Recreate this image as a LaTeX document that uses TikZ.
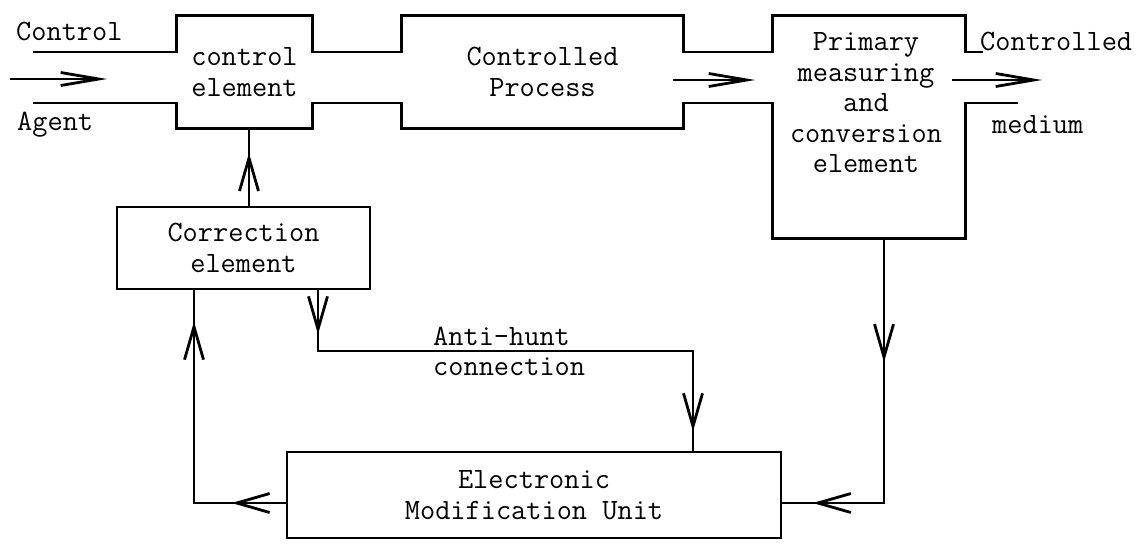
\documentclass[tikz,border=0pt]{standalone}
\usepackage{fontspec}
\usetikzlibrary{arrows.meta,decorations.markings}
\begin{document}
\begin{tikzpicture}[x=1pt,y=-1pt,
  ln/.style={line width=2.8pt, line join=miter},
  txt/.style={font=\fontsize{29.5}{30.5}\selectfont\ttfamily, inner sep=0pt, align=center},
  lbl/.style={font=\fontsize{29.5}{30.5}\selectfont\ttfamily, inner sep=0pt, anchor=base west},
  hole/.style={draw=none, inner sep=0pt},
  boxed/.style={draw, ln, inner sep=0pt},
  harrow/.style={ln, -{Straight Barb[length=38pt,width=13pt]}},
  tipat/.style={postaction={decorate,decoration={markings,
      mark=at position #1 with {\arrow{Straight Barb[length=33pt,width=19pt]}}}}}
]
\useasboundingbox (0,0) rectangle (1139,544);

% boxes of the main line (drawn as pipe outline below)
\node[hole, txt, minimum width=135pt, minimum height=112pt] (ce) at (244.5,72) {control\\element};
\node[hole, txt, minimum width=281pt, minimum height=112pt] (pp) at (542.5,72) {Controlled\\Process};
\node[hole, minimum width=192pt, minimum height=222pt] (pm) at (869,127) {};
\node[txt] (pmt) at (866,103) {Primary\\measuring\\and\\conversion\\element};

% pipe edges
\coordinate (inTop) at (33,52);
\coordinate (inBot) at (33,103);
\coordinate (outTop) at (983,52);
\coordinate (outBot) at (1018,103);
\draw[ln] (inTop) -- (ce.west |- inTop) -- (ce.north west) -- (ce.north east)
  -- (ce.east |- inTop) -- (pp.west |- inTop) -- (pp.north west) -- (pp.north east)
  -- (pp.east |- inTop) -- (pm.west |- inTop) -- (pm.north west) -- (pm.north east)
  -- (pm.east |- inTop) -- (outTop);
\draw[ln] (inBot) -- (ce.west |- inBot) -- (ce.south west) -- (ce.south east)
  -- (ce.east |- inBot) -- (pp.west |- inBot) -- (pp.south west) -- (pp.south east)
  -- (pp.east |- inBot) -- (pm.west |- inBot) -- (pm.south west) -- (pm.south east)
  -- (pm.east |- inBot) -- (outBot);

% flow arrows
\coordinate (a1s) at (10,79);  \coordinate (a1e) at (107,79);
\coordinate (a2s) at (673,80); \coordinate (a2e) at (755,80);
\coordinate (a3s) at (952,80); \coordinate (a3e) at (1042,80);
\draw[harrow] (a1s) -- (a1e);
\draw[harrow] (a2s) -- (a2e);
\draw[harrow] (a3s) -- (a3e);

% labels of the main line
\node[lbl] (lc) at (16,40) {Control};
\node[lbl] (la) at (17,130) {Agent};
\node[lbl] (lcd) at (980,50) {Controlled};
\node[lbl] (lm) at (992,133) {medium};

% lower boxes
\node[boxed, txt, minimum width=253pt, minimum height=82pt] (cor) at (243.5,248) {Correction\\element};
\node[boxed, txt, minimum width=494pt, minimum height=86pt] (emu) at (534,495) {Electronic\\Modification Unit};

% correction -> control element
\coordinate (xc) at (249,0);
\draw[ln, tipat=0.68] (cor.north -| xc) -- (ce.south -| xc);

% anti-hunt connection
\coordinate (ah1) at (318,351);
\coordinate (ah2) at (693,351);
\draw[ln, tipat=44pt, tipat=516pt] (cor.south -| ah1) -- (ah1) -- (ah2) -- (emu.north -| ah2);
\node[lbl] (aht) at (433,345) {Anti-hunt};
\node[lbl] (ahc) at (433,375) {connection};

% feedback from emu to correction element
\coordinate (fl) at (194,503);
\draw[ln, tipat=54pt, tipat=273pt] (emu.west |- fl) -- (fl) -- (cor.south -| fl);

% measuring element -> emu
\coordinate (fr) at (884,503);
\draw[ln, tipat=124pt, tipat=336pt] (pm.south -| fr) -- (fr) -- (emu.east |- fr);
\end{tikzpicture}
\end{document}
